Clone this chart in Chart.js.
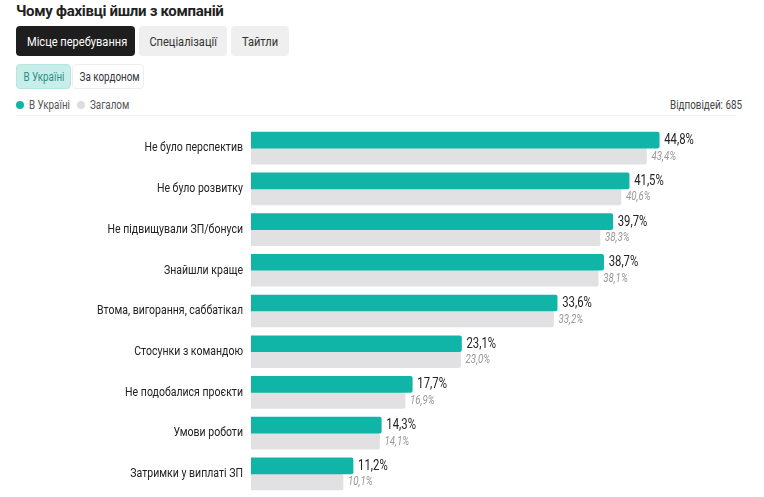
<!DOCTYPE html>
<html><head><meta charset="utf-8">
<script src="https://cdn.jsdelivr.net/npm/chart.js@4"></script>
<style>
body{margin:0;background:#fff;font-family:Roboto,sans-serif;width:764px;height:497px;overflow:hidden;position:relative;color:#222}
.t{position:absolute;left:16px;top:2px;font-weight:700;font-size:15px;letter-spacing:-0.3px}
.btn{position:absolute;top:26px;height:30px;line-height:30px;border-radius:4px;font-size:13.5px;text-align:center;background:#efefef;color:#333;white-space:nowrap}
.b2{position:absolute;top:64px;height:25px;line-height:25px;border-radius:4px;font-size:12px;text-align:center;border:1px solid #eee;color:#333;box-sizing:border-box;white-space:nowrap}
.lg{position:absolute;top:98px;font-size:12px;color:#555;white-space:nowrap}
.n{display:inline-block;transform:scaleX(0.82);transform-origin:center;white-space:nowrap}
.lg .n{transform-origin:left}
.dot{display:inline-block;width:8px;height:8px;border-radius:50%;margin-right:5px;vertical-align:0px}
#w{position:absolute;left:0;top:112px;width:764px;height:398px}
</style></head><body>
<div class="t">Чому фахівці йшли з компаній</div>
<div class="btn" style="left:16px;width:119px;background:#1e1e1e;color:#fff"><span class="n">Місце перебування</span></div>
<div class="btn" style="left:139px;width:88px"><span class="n">Спеціалізації</span></div>
<div class="btn" style="left:231px;width:58px"><span class="n">Тайтли</span></div>
<div class="b2" style="left:16px;width:55px;background:#c8eeea;border-color:#b5e5df;color:#2a8f85"><span class="n">В Україні</span></div>
<div class="b2" style="left:72px;width:72px"><span class="n">За кордоном</span></div>
<div class="lg" style="left:16px"><span class="dot" style="background:#10b5a8"></span><span class="n">В Україні</span></div>
<div class="lg" style="left:77px"><span class="dot" style="background:#ddd"></span><span class="n">Загалом</span></div>
<div class="lg" style="left:670px;color:#444"><span class="n">Відповідей: 685</span></div>
<div style="position:absolute;left:16px;top:115px;width:720px;height:1px;background:#f0f0f0"></div>
<div id="w"><canvas id="c"></canvas></div>
<script>
const categories=["Не було перспектив","Не було розвитку","Не підвищували ЗП/бонуси","Знайшли краще","Втома, вигорання, саббатікал","Стосунки з командою","Не подобалися проєкти","Умови роботи","Затримки у виплаті ЗП"];
const ukraine=[44.8,41.5,39.7,38.7,33.6,23.1,17.7,14.3,11.2];
const overall=[43.4,40.6,38.3,38.1,33.2,23.0,16.9,14.1,10.1];
const SX=0.81;
const fmt=v=>v.toFixed(1).replace('.',',')+'%';
function nt(c,t,x,y,align){c.save();c.translate(x,y);c.scale(SX,1);c.textAlign=align;c.textBaseline='middle';c.fillText(t,0,0);c.restore();}
const labels={id:'lbl',afterDatasetsDraw(ch){const c=ch.ctx;
ch.data.datasets.forEach((ds,i)=>{ch.getDatasetMeta(i).data.forEach((b,j)=>{c.save();if(i===0){c.font='14px Roboto';c.fillStyle='#222';}else{c.font='italic 12px Roboto';c.fillStyle='#999';}nt(c,fmt(ds.data[j]),b.x+5,b.y+0.5,'left');c.restore();});});
const ys=ch.scales.y;c.save();c.font='13px Roboto';c.fillStyle='#222';
ch.data.labels.forEach((l,j)=>nt(c,l,243,ys.getPixelForValue(j),'right'));c.restore();}};
new Chart(document.getElementById('c'),{type:'bar',
data:{labels:categories,datasets:[
{data:ukraine,backgroundColor:'#10b5a8',barThickness:16,borderRadius:2,borderSkipped:'left'},
{data:overall,backgroundColor:'#e1e1e3',barThickness:16,borderRadius:2,borderSkipped:'left'}]},
options:{indexAxis:'y',responsive:true,maintainAspectRatio:false,animation:false,
layout:{padding:0},
plugins:{legend:{display:false},tooltip:{enabled:false}},
scales:{x:{min:0,max:56.3,display:false},
y:{grid:{display:false},border:{display:false},ticks:{color:'rgba(0,0,0,0)',font:{family:'Roboto',size:13},padding:8},afterFit(s){s.width=251;}}}},
plugins:[labels]});
</script></body></html>
